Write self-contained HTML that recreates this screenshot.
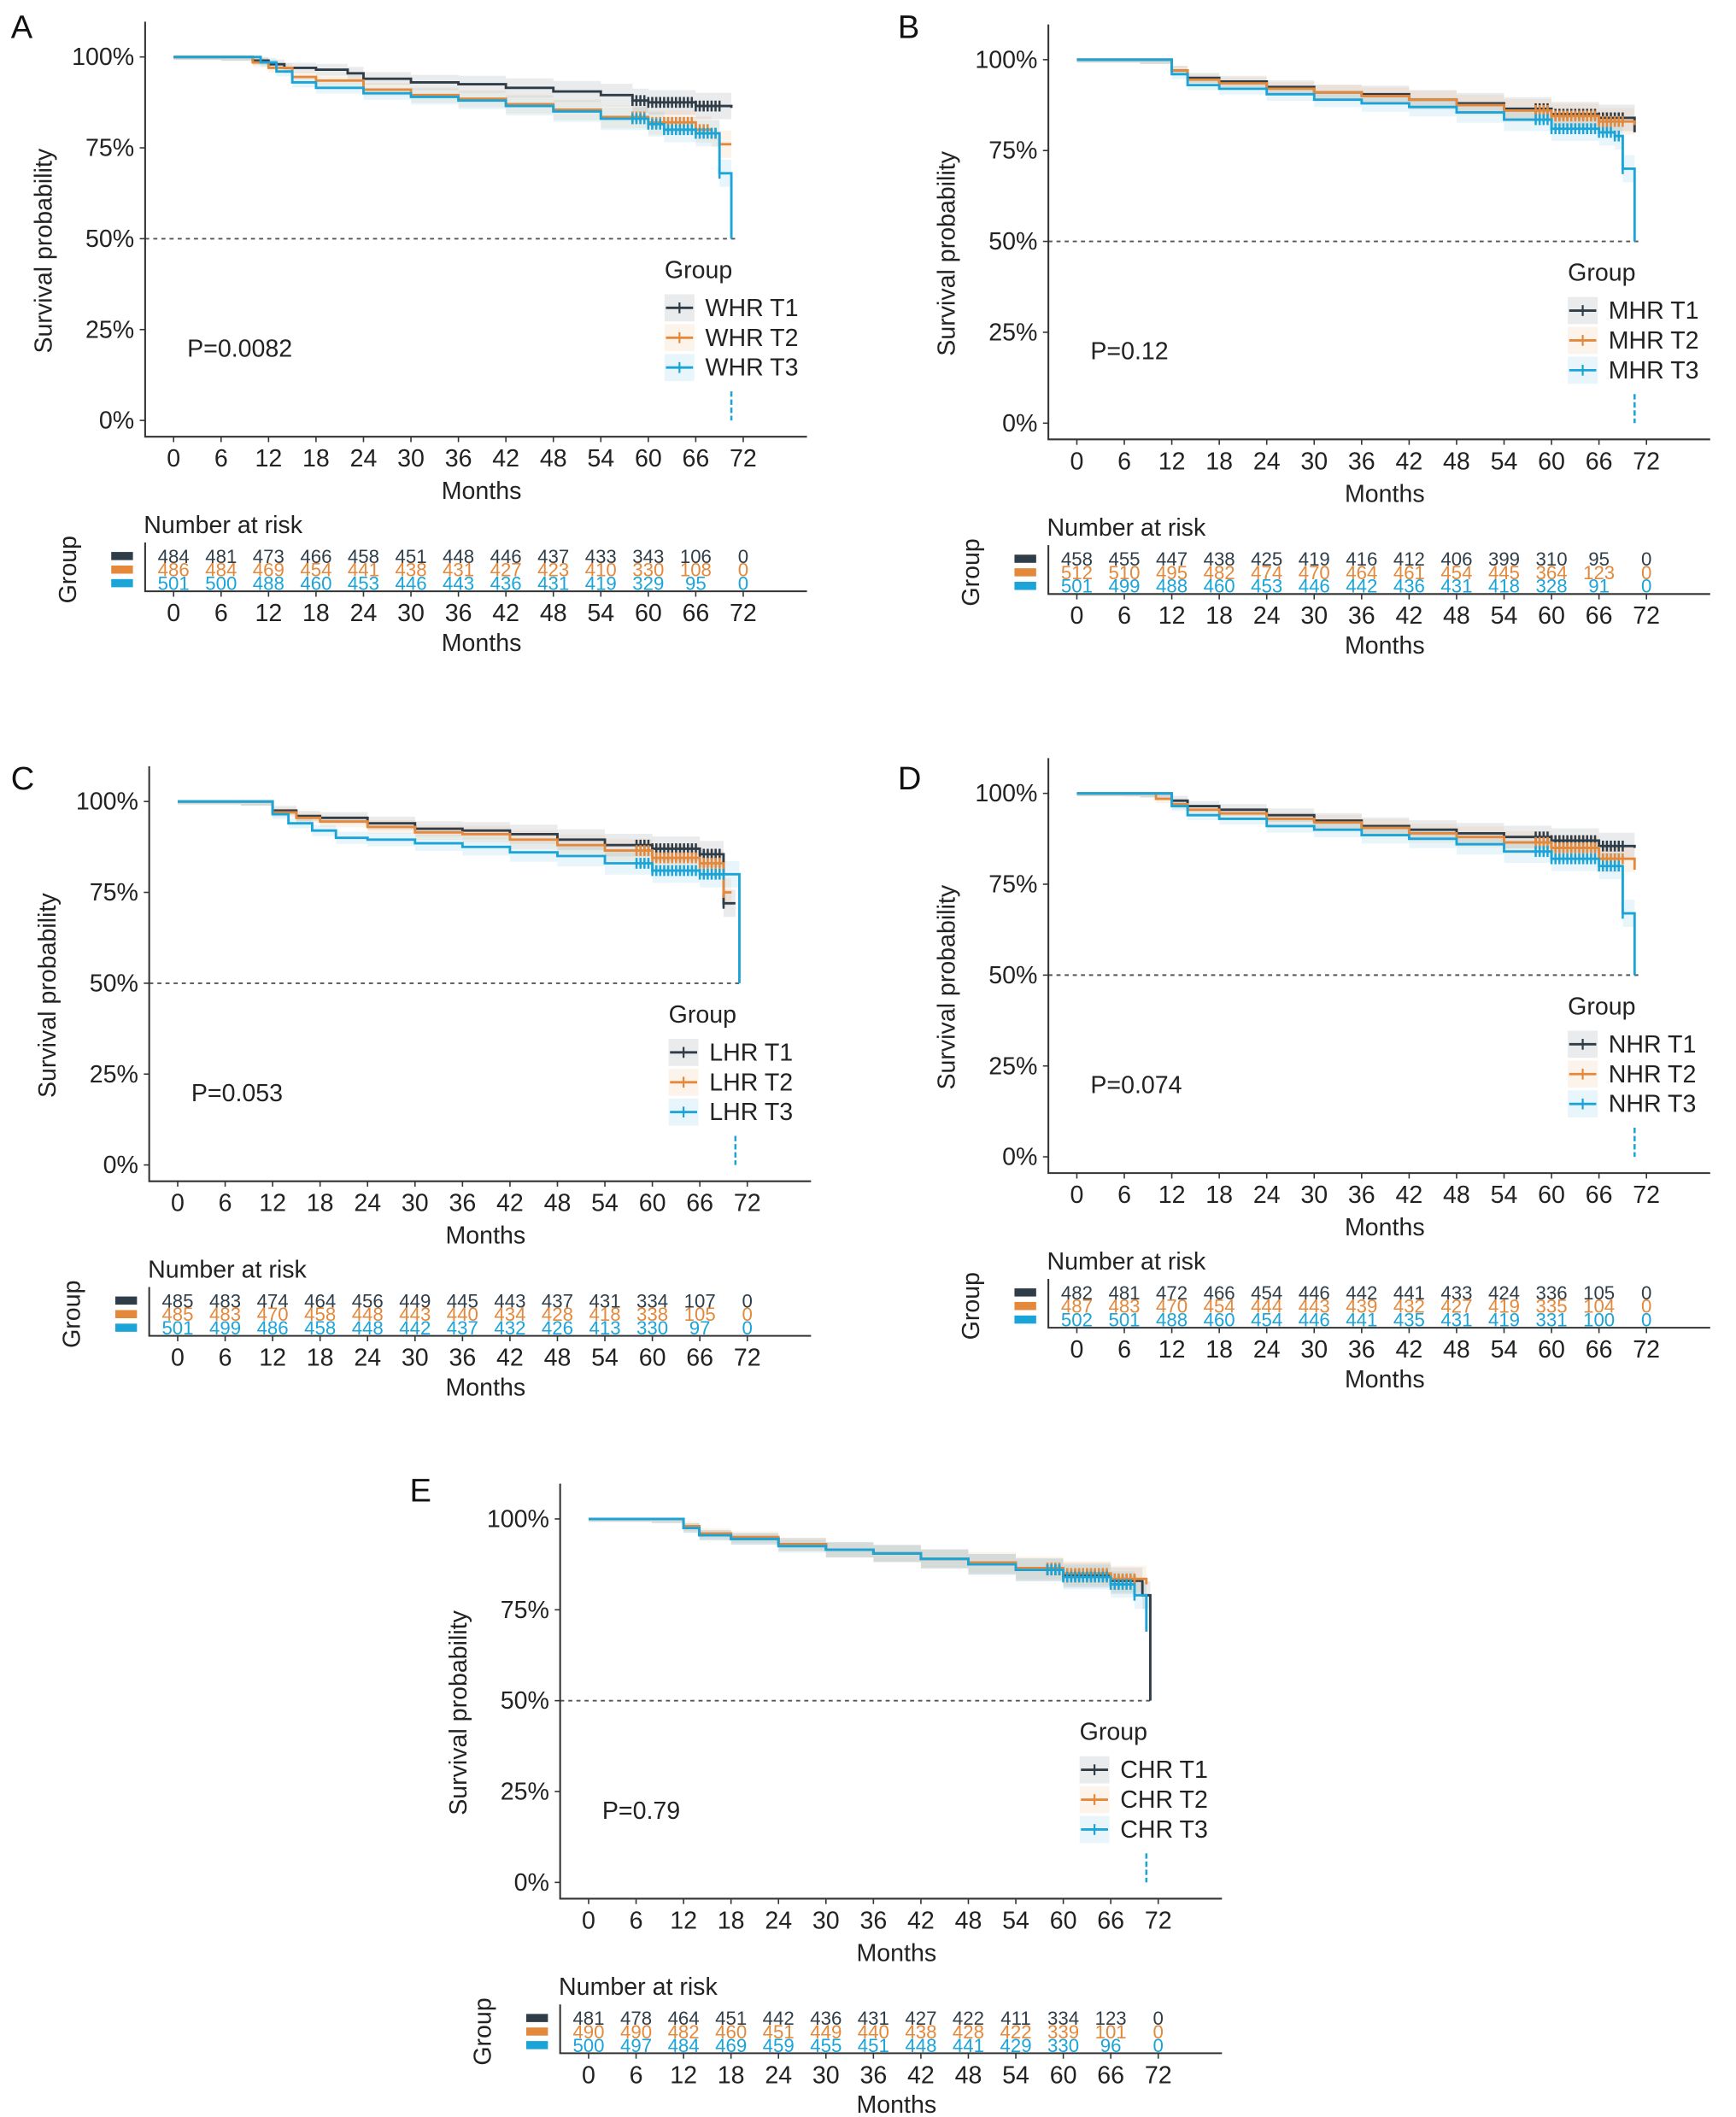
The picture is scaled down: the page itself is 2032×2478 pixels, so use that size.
<!DOCTYPE html>
<html><head><meta charset="utf-8"><style>
html,body{margin:0;padding:0;background:#fff;}
svg{display:block;font-family:"Liberation Sans",Arial,sans-serif;}
</style></head><body>
<svg id="fig" width="2032" height="2478" viewBox="0 0 1280 1561" xmlns="http://www.w3.org/2000/svg"></svg>
<script>
const NS="http://www.w3.org/2000/svg";
const colors=["#2f3d48","#e4893b","#1aa4d8"];
const xTicks=[0,6,12,18,24,30,36,42,48,54,60,66,72];
const yTicks=[0,0.25,0.5,0.75,1];
const yTickLabels=["0%","25%","50%","75%","100%"];

const panelLabels=["A","B","C","D","E"];
const groupPrefixes=["WHR","MHR","LHR","NHR","CHR"];
const pValues=["P=0.0082","P=0.12","P=0.053","P=0.074","P=0.79"];

const timesA1=[0,6,10,12,14,18,22,24,30,36,42,48,54,58,60,66,70.5];
const survA1=[1,1,0.99,0.98,0.97,0.965,0.955,0.94,0.93,0.925,0.915,0.905,0.895,0.88,0.875,0.865,0.86];
const timesA2=[0,6,10,12,15,18,24,30,36,42,48,54,60,66,68,69,70.5];
const survA2=[1,1,0.985,0.97,0.945,0.935,0.91,0.895,0.885,0.87,0.855,0.835,0.82,0.8,0.79,0.76,0.76];
const timesA3=[0,6,11,13,15,18,24,30,36,42,48,54,60,62,66,69,70.5];
const survA3=[1,1,0.985,0.96,0.93,0.915,0.9,0.89,0.88,0.865,0.85,0.83,0.815,0.8,0.79,0.68,0.5];

const timesB1=[0,8,12,14,18,24,30,36,42,48,54,60,66,70.5];
const survB1=[1,1,0.97,0.95,0.94,0.925,0.91,0.905,0.89,0.88,0.865,0.85,0.84,0.8];
const timesB2=[0,8,12,14,18,24,30,36,42,48,54,60,66,70.5];
const survB2=[1,1,0.97,0.945,0.935,0.92,0.91,0.9,0.89,0.875,0.86,0.845,0.83,0.82];
const timesB3=[0,8,12,14,18,24,30,36,42,48,54,60,66,68,69,70.5];
const survB3=[1,1,0.96,0.93,0.92,0.905,0.89,0.88,0.87,0.855,0.835,0.81,0.8,0.79,0.7,0.5];

const timesC1=[0,8,12,15,18,24,30,36,42,48,54,60,66,69,70.5];
const survC1=[1,1,0.975,0.96,0.955,0.94,0.925,0.92,0.91,0.895,0.88,0.87,0.855,0.72,0.72];
const timesC2=[0,8,12,15,18,24,30,36,42,48,54,60,66,69,70];
const survC2=[1,1,0.97,0.955,0.945,0.93,0.915,0.91,0.895,0.88,0.865,0.845,0.83,0.75,0.75];
const timesC3=[0,8,12,14,17,20,24,30,36,42,48,54,60,66,71];
const survC3=[1,1,0.965,0.94,0.92,0.9,0.895,0.885,0.875,0.86,0.85,0.83,0.81,0.8,0.5];

const timesD1=[0,8,12,14,18,24,30,36,42,48,54,60,66,70.5];
const survD1=[1,1,0.98,0.965,0.955,0.94,0.925,0.91,0.9,0.89,0.88,0.87,0.855,0.85];
const timesD2=[0,6,10,12,14,18,24,30,36,42,48,54,60,66,70.5];
const survD2=[1,1,0.985,0.97,0.955,0.945,0.93,0.92,0.905,0.89,0.88,0.865,0.85,0.82,0.79];
const timesD3=[0,8,12,14,18,24,30,36,42,48,54,60,66,69,70.5];
const survD3=[1,1,0.965,0.94,0.93,0.91,0.9,0.885,0.875,0.86,0.84,0.82,0.8,0.67,0.5];

const timesE1=[0,8,12,14,18,24,30,36,42,48,54,60,66,70,71];
const survE1=[1,1,0.975,0.955,0.945,0.93,0.915,0.905,0.89,0.875,0.86,0.845,0.83,0.79,0.5];
const timesE2=[0,8,12,14,18,24,30,36,42,48,54,60,66,70.5];
const survE2=[1,1,0.98,0.96,0.95,0.93,0.915,0.905,0.89,0.88,0.865,0.85,0.835,0.82];
const timesE3=[0,8,12,14,18,24,30,36,42,48,54,60,66,69,70.5];
const survE3=[1,1,0.975,0.955,0.945,0.925,0.915,0.905,0.89,0.875,0.86,0.84,0.82,0.79,0.69];

const censorTimes=[58,58.5,59,59.5,60,60.5,61,61.5,62,62.5,63,63.5,64,64.5,65,65.5,66,66.5,67,67.5,68,68.5,69];

const riskA=[[484,481,473,466,458,451,448,446,437,433,343,106,0],[486,484,469,454,441,438,431,427,423,410,330,108,0],[501,500,488,460,453,446,443,436,431,419,329,95,0]];
const riskB=[[458,455,447,438,425,419,416,412,406,399,310,95,0],[512,510,495,482,474,470,464,461,454,445,364,123,0],[501,499,488,460,453,446,442,436,431,418,328,91,0]];
const riskC=[[485,483,474,464,456,449,445,443,437,431,334,107,0],[485,483,470,458,448,443,440,434,428,418,338,105,0],[501,499,486,458,448,442,437,432,426,413,330,97,0]];
const riskD=[[482,481,472,466,454,446,442,441,433,424,336,105,0],[487,483,470,454,444,443,439,432,427,419,335,104,0],[502,501,488,460,454,446,441,435,431,419,331,100,0]];
const riskE=[[481,478,464,451,442,436,431,427,422,411,334,123,0],[490,490,482,460,451,449,440,438,428,422,339,101,0],[500,497,484,469,459,455,451,448,441,429,330,96,0]];

const panels=[
 {x0:107,y0:42,lx:8,ly:28,times:[timesA1,timesA2,timesA3],surv:[survA1,survA2,survA3],risk:riskA},
 {x0:773,y0:44,lx:662,ly:28,times:[timesB1,timesB2,timesB3],surv:[survB1,survB2,survB3],risk:riskB},
 {x0:110,y0:591,lx:8,ly:582,times:[timesC1,timesC2,timesC3],surv:[survC1,survC2,survC3],risk:riskC},
 {x0:773,y0:585,lx:662,ly:582,times:[timesD1,timesD2,timesD3],surv:[survD1,survD2,survD3],risk:riskD},
 {x0:413,y0:1120,lx:302,ly:1107,times:[timesE1,timesE2,timesE3],surv:[survE1,survE2,survE3],risk:riskE}
];

const svg=document.getElementById("fig");
function mk(tag,attrs,parent,text){
  const e=document.createElementNS(NS,tag);
  for(const k in attrs)e.setAttribute(k,attrs[k]);
  if(text!==undefined)e.textContent=text;
  (parent||svg).appendChild(e);return e;
}
function stepPath(ts,ss,xs,ys){
  let d="M"+xs(ts[0])+","+ys(ss[0]);
  for(let i=1;i<ts.length;i++){d+=" H"+xs(ts[i])+" V"+ys(ss[i]);}
  return d;
}
function survAt(ts,ss,t){let v=ss[0];for(let i=0;i<ts.length;i++){if(ts[i]<=t)v=ss[i];}return v;}

panels.forEach((p,pi)=>{
  const g=mk("g",{});
  
  
  const X0=p.x0,Y0=p.y0;
  const xs=m=>X0+21+m*(420/72);
  const ys=v=>Y0+(1-v)*268;
  const lab=mk("text",{x:p.lx,y:p.ly,"font-size":24,fill:"#111"},g,panelLabels[pi]);
  
  
  p.times.forEach((ts,gi)=>{
    const ss=p.surv[gi];
    const pts=[];
    for(let i=0;i<ts.length;i++){pts.push([ts[i],ss[i]]);}
    let d="";
    const hw=t=>0.008+0.03*(t/70);
    for(let i=0;i<pts.length;i++){
      const t1=pts[i][0],t2=i+1<pts.length?pts[i+1][0]:pts[i][0];
      const s=pts[i][1];
      d+=(i===0?"M":"L")+xs(t1)+","+ys(Math.min(1,s+hw(t1)))+" L"+xs(t2)+","+ys(Math.min(1,s+hw(t1)));
    }
    for(let i=pts.length-1;i>=0;i--){
      const t1=pts[i][0],t2=i+1<pts.length?pts[i+1][0]:pts[i][0];
      const s=pts[i][1];
      d+=" L"+xs(t2)+","+ys(Math.max(0,s-hw(t1)))+" L"+xs(t1)+","+ys(Math.max(0,s-hw(t1)));
    }
    const b=mk("path",{d:d+"Z",fill:colors[gi],"fill-opacity":0.1,stroke:"none"},g);
    
    
  });
  const ml=mk("line",{x1:X0,x2:xs(71),y1:ys(0.5),y2:ys(0.5),stroke:"#555","stroke-width":1.2,"stroke-dasharray":"3,3"},g);
  
  
  p.times.forEach((ts,gi)=>{
    const ss=p.surv[gi];
    const c=mk("path",{d:stepPath(ts,ss,xs,ys),fill:"none",stroke:colors[gi],"stroke-width":1.8},g);
    
    
    censorTimes.forEach(t=>{
      const v=survAt(ts,ss,t);
      const cm=mk("line",{x1:xs(t),x2:xs(t),y1:ys(v)-4,y2:ys(v)+4,stroke:colors[gi],"stroke-width":1.6},g);
      
      
    });
  });
  const tail=mk("line",{x1:xs(70.5),x2:xs(70.5),y1:ys(0.08),y2:ys(0),stroke:colors[2],"stroke-width":1.6,"stroke-dasharray":"4,2"},g);
  
  
  const ax=mk("path",{d:`M${X0},${Y0-26} V${Y0+280} H${X0+488}`,fill:"none",stroke:"#333","stroke-width":1.3},g);
  
  
  yTicks.forEach((v,i)=>{
    mk("line",{x1:X0-4,x2:X0,y1:ys(v),y2:ys(v),stroke:"#333"},g);
    const t=mk("text",{x:X0-8,y:ys(v)+6,"text-anchor":"end","font-size":18,fill:"#222"},g,yTickLabels[i]);
    
    
  });
  xTicks.forEach(m=>{
    mk("line",{x1:xs(m),x2:xs(m),y1:Y0+280,y2:Y0+284,stroke:"#333"},g);
    const t=mk("text",{x:xs(m),y:Y0+302,"text-anchor":"middle","font-size":18,fill:"#222"},g,String(m));
    
    
  });
  const xt=mk("text",{x:X0+248,y:Y0+326,"text-anchor":"middle","font-size":18,fill:"#222"},g,"Months");
  
  
  const yt=mk("text",{x:0,y:0,"text-anchor":"middle","font-size":18,fill:"#222",transform:`translate(${X0-69},${Y0+143}) rotate(-90)`},g,"Survival probability");
  
  
  const pv=mk("text",{x:X0+31,y:Y0+221,"font-size":18,fill:"#222"},g,pValues[pi]);
  
  
  const lt=mk("text",{x:X0+383,y:Y0+163,"font-size":18,fill:"#222"},g,"Group");
  
  
  [0,1,2].forEach(gi=>{
    const yy=Y0+185+gi*22;
    mk("rect",{x:X0+383,y:yy-10,width:22,height:20,fill:colors[gi],"fill-opacity":0.1},g);
    mk("line",{x1:X0+384,x2:X0+404,y1:yy,y2:yy,stroke:colors[gi],"stroke-width":1.8},g);
    mk("line",{x1:X0+394,x2:X0+394,y1:yy-4,y2:yy+4,stroke:colors[gi],"stroke-width":1.4},g);
    const le=mk("text",{x:X0+413,y:yy+6,"font-size":18,fill:"#222"},g,groupPrefixes[pi]+" T"+(gi+1));
    
    
  });
  const rt=mk("text",{x:X0-1,y:Y0+351,"font-size":18,fill:"#222"},g,"Number at risk");
  
  
  const rax=mk("path",{d:`M${X0},${Y0+358} V${Y0+394} H${X0+488}`,fill:"none",stroke:"#333","stroke-width":1.3},g);
  
  
  p.risk.forEach((row,gi)=>{
    const yy=Y0+368+gi*10;
    mk("rect",{x:X0-25,y:yy-3,width:16,height:6,fill:colors[gi]},g);
    row.forEach((n,k)=>{
      const t=mk("text",{x:xs(xTicks[k]),y:yy+5,"text-anchor":"middle","font-size":14,fill:colors[gi]},g,String(n));
      
      
    });
  });
  xTicks.forEach(m=>{
    mk("line",{x1:xs(m),x2:xs(m),y1:Y0+394,y2:Y0+398,stroke:"#333"},g);
    const t=mk("text",{x:xs(m),y:Y0+416,"text-anchor":"middle","font-size":18,fill:"#222"},g,String(m));
    
    
  });
  const rm=mk("text",{x:X0+248,y:Y0+438,"text-anchor":"middle","font-size":18,fill:"#222"},g,"Months");
  
  
  const rg=mk("text",{x:0,y:0,"text-anchor":"middle","font-size":18,fill:"#222",transform:`translate(${X0-51},${Y0+378}) rotate(-90)`},g,"Group");
  
  
});
</script>
</body></html>
